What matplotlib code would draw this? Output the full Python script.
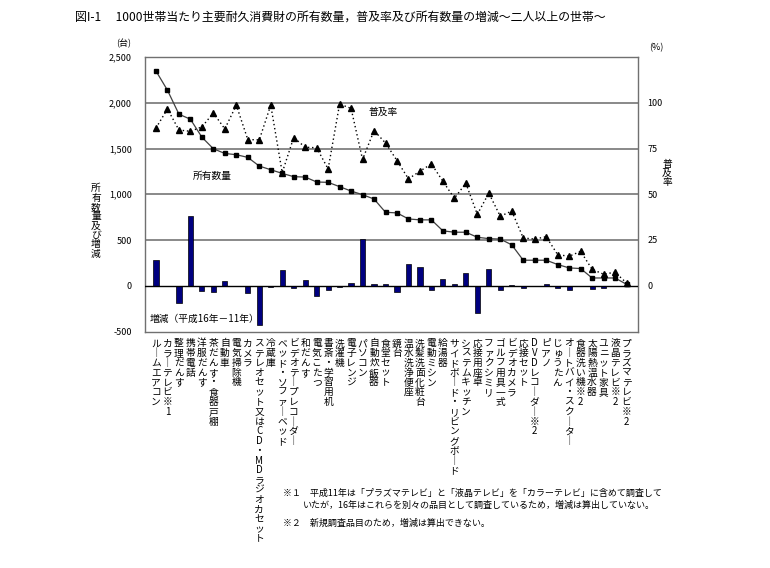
import numpy as np
import matplotlib.pyplot as plt
from matplotlib.ticker import FuncFormatter

plt.rcParams['font.family'] = ['Noto Sans CJK JP', 'DejaVu Sans']

# 品目
items = ["ルームエアコン", "カラーテレビ※1", "整理だんす", "携帯電話", "洋服だんす",
         "茶だんす・食器戸棚", "自動車", "電気掃除機", "カメラ",
         "ステレオセット又はCD・MDラジオカセット", "冷蔵庫", "ベッド・ソファーベッド",
         "ビデオテープレコーダー", "和だんす", "電気こたつ", "書斎・学習用机", "洗濯機",
         "電子レンジ", "パソコン", "自動炊飯器", "食堂セット", "鏡台", "温水洗浄便座",
         "洗髪洗面化粧台", "電動ミシン", "給湯器", "サイドボード・リビングボード",
         "システムキッチン", "応接用座卓", "ファクシミリ", "ゴルフ用具一式", "ビデオカメラ",
         "応接セット", "DVDレコーダー※2", "ピアノ", "じゅうたん", "オートバイ・スクーター",
         "食器洗い機※2", "太陽熱温水器", "ユニット家具", "液晶テレビ※2", "プラズマテレビ※2"]

# 所有数量（台／1000世帯）
quantity = [2347, 2137, 1875, 1820, 1624, 1497, 1446, 1432, 1403, 1308, 1268, 1228,
            1192, 1188, 1134, 1130, 1083, 1035, 995, 948, 803, 796, 730, 720, 720,
            600, 585, 585, 530, 515, 510, 447, 279, 279, 279, 232, 195, 188, 85, 85,
            85, 16]

# 普及率（%）
rate = [86.2, 96.6, 85.1, 84.4, 86.8, 94.4, 85.7, 98.7, 79.9, 79.7, 98.7, 61.8,
        81.0, 75.7, 75.4, 63.8, 99.3, 96.9, 69.0, 84.8, 78.0, 68.4, 58.4, 62.6,
        66.6, 57.1, 47.8, 56.0, 39.0, 50.6, 38.0, 40.8, 26.1, 25.5, 26.8, 17.0,
        16.1, 18.8, 9.0, 6.3, 7.4, 1.5]

# 増減（平成16年－11年）, None = 算出なし
change = [283, None, -189, 763, -55, -73, 47, 2, -80, -432, -18, 171, -25, 65,
          -109, -44, -15, 29, 512, 18, 18, -69, 236, 207, -51, 69, 18, 142, -298,
          178, -51, 7, -25, None, 14, -25, -47, None, -33, -29, None, None]

W, H = 770, 568
x = np.arange(len(items))
chg = np.array([np.nan if v is None else v for v in change], dtype=float)

fig = plt.figure(figsize=(W / 100, H / 100), dpi=100)
ax = fig.add_axes([144.5 / W, 1 - 331.5 / H, (638 - 144.5) / W, (331.5 - 57) / H])
ax.set_xlim(-1.0, 42.0)
ax.set_ylim(-500, 2500)

for v in [500, 1000, 1500, 2000]:
    ax.axhline(v, color='#808080', lw=1.3, zorder=1)
ax.axhline(0, color='black', lw=1.0, zorder=3)

ax.bar(x, chg, width=0.45, color='#000080', edgecolor='black', linewidth=0.5, zorder=2)
ax.plot(x, quantity, color='#404040', lw=0.9, marker='s', ms=3.5,
        mfc='black', mec='black', zorder=4)

for s in ax.spines.values():
    s.set_color('#707070')
    s.set_linewidth(1.0)

ax.set_yticks(range(-500, 2501, 500))
ax.yaxis.set_major_formatter(FuncFormatter(lambda v, p: f"{int(v):,}"))
ax.tick_params(axis='y', length=0, labelsize=6.5, pad=9)

def vert(s):
    return "\n".join(s.replace("ー", "｜"))

ax.set_xticks(x)
ax.set_xticklabels([vert(s) for s in items], fontsize=7, linespacing=0.97)
ax.tick_params(axis='x', length=0, pad=5)

ax2 = ax.twinx()
ax2.set_ylim(-25, 125)
ax2.plot(x, rate, color='black', lw=1.0, linestyle=(0, (1, 2)), marker='^', ms=3.8,
         mfc='black', mec='black', zorder=5)
ax2.set_yticks([0, 25, 50, 75, 100])
ax2.tick_params(axis='y', length=0, labelsize=6.5, pad=7)
for s in ax2.spines.values():
    s.set_visible(False)

def ftext(px, py, s, **kw):
    fig.text(px / W, 1 - py / H, s, **kw)

ftext(75, 17, "図I-1　 1000世帯当たり主要耐久消費財の所有数量，普及率及び所有数量の増減～二人以上の世帯～",
      fontsize=8.6, va='center', ha='left')
ftext(124, 43, "(台)", fontsize=6.5, ha='center', va='center')
ftext(656, 48, "(%)", fontsize=6.5, ha='center', va='center')
ftext(96, 221, "\n".join("所有数量及び増減"), fontsize=7, ha='center', va='center',
      linespacing=0.92)
ftext(667, 173, "\n".join("普及率"), fontsize=7, ha='center', va='center',
      linespacing=0.92)
ftext(383, 112, "普及率", fontsize=7, ha='center', va='center')
ftext(212, 176, "所有数量", fontsize=7, ha='center', va='center')
ftext(150, 319, "増減（平成16年－11年）", fontsize=7, ha='left', va='center')

ftext(283, 493, "※１　平成11年は「プラズマテレビ」と「液晶テレビ」を「カラーテレビ」に含めて調査して",
      fontsize=6.5, ha='left', va='center')
ftext(303, 505, "いたが，16年はこれらを別々の品目として調査しているため，増減は算出していない。",
      fontsize=6.5, ha='left', va='center')
ftext(283, 523, "※２　新規調査品目のため，増減は算出できない。",
      fontsize=6.5, ha='left', va='center')

fig.savefig("out.png", dpi=100)
